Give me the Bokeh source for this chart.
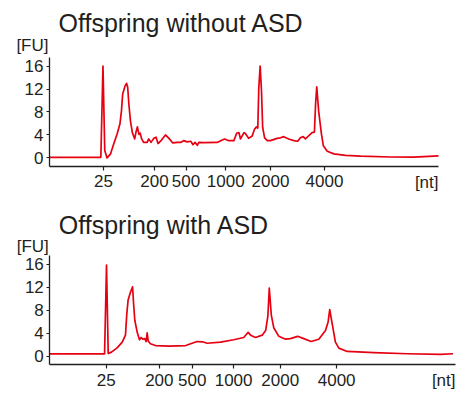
from bokeh.plotting import figure
from bokeh.models import Range1d, FixedTicker, Label
from bokeh.layouts import column
from bokeh.embed import file_html
from bokeh.resources import INLINE

titles = ["Offspring without ASD", "Offspring with ASD"]
y_unit = "[FU]"
x_unit = "[nt]"
tick_pos = [13.9, 27.0, 35.1, 45.3, 56.8, 70.7]
tick_labels = ["25", "200", "500", "1000", "2000", "4000"]
y_ticks = [0, 4, 8, 12, 16]

# migration time (arbitrary units, 0-100) vs fluorescence
top_x = [0.0, 12.9, 13.2, 13.75, 14.2, 14.8, 15.7, 16.5, 17.4, 18.1, 18.5, 18.8, 19.4, 19.8, 20.1,
         20.4, 20.8, 21.3, 21.9, 22.3, 22.6, 23.0, 23.3, 23.7, 24.2, 25.1, 25.5, 26.1, 26.8, 27.4,
         27.9, 28.8, 29.8, 30.7, 31.7, 32.8, 33.7, 34.5, 35.4, 36.3, 36.9, 37.4, 38.0, 38.4, 39.7,
         43.1, 44.0, 45.0, 46.1, 47.4, 48.1, 48.7, 49.1, 49.5, 50.0, 50.4, 51.2, 52.1, 52.7, 53.2,
         53.55, 53.8, 54.15, 54.5, 54.8, 55.3, 56.0, 56.8, 58.5, 59.4, 60.2, 61.5, 62.8, 63.8, 64.5,
         65.2, 65.8, 66.7, 67.5, 68.1, 68.4, 68.7, 69.2, 69.9, 70.4, 71.4, 73.1, 76.1, 80.0, 87.7,
         93.6, 100.0]
top_y = [0.1, 0.1, 0.1, 16.0, 1.3, 0.0, 0.7, 2.4, 4.2, 5.9, 8.2, 11.1, 12.5, 13.0, 12.3,
         9.4, 6.5, 4.4, 3.3, 4.7, 5.4, 4.1, 4.3, 3.3, 2.7, 2.7, 3.3, 2.7, 3.4, 3.6,
         2.5, 3.1, 4.0, 3.4, 2.6, 2.7, 2.7, 3.0, 2.8, 2.9, 2.3, 2.7, 2.2, 2.7, 2.65,
         2.7, 3.0, 3.3, 3.0, 3.0, 4.3, 4.4, 3.3, 3.8, 4.4, 4.2, 3.4, 3.8, 5.0, 5.4,
         5.2, 12.2, 16.0, 11.6, 5.3, 3.5, 3.0, 3.0, 3.4, 3.5, 3.7, 3.3, 3.0, 2.9, 3.5,
         3.7, 3.3, 3.9, 4.4, 4.5, 9.4, 12.4, 8.1, 4.2, 2.1, 1.15, 0.7, 0.45, 0.3, 0.15,
         0.12, 0.35]

bot_x = [0.0, 13.5, 13.98, 14.4, 15.2, 16.6, 17.85, 18.65, 18.98, 19.3, 19.9, 20.4, 20.65, 20.95,
         21.55, 22.1, 22.5, 22.9, 23.4, 23.75, 24.0, 24.25, 24.8, 26.05, 29.3, 33.5, 36.3, 37.6,
         38.8, 42.1, 45.35, 47.8, 48.9, 49.5, 50.7, 52.35, 53.2, 53.75, 54.1, 54.6, 55.2, 56.45,
         58.1, 59.3, 61.1, 62.6, 64.4, 66.3, 67.95, 68.6, 69.0, 69.6, 70.4, 71.25, 73.3, 79.9,
         88.1, 96.3, 99.4]
bot_y = [0.45, 0.45, 15.9, 0.5, 0.75, 1.5, 2.5, 3.7, 7.4, 9.8, 11.2, 12.1, 9.2, 6.3,
         4.2, 2.9, 3.3, 3.0, 3.1, 2.6, 4.1, 2.7, 2.2, 1.9, 1.8, 1.9, 2.6, 2.55,
         2.3, 2.5, 2.9, 3.3, 4.2, 3.7, 3.3, 3.7, 4.5, 7.0, 11.9, 7.2, 5.0, 3.5,
         3.0, 3.1, 3.5, 3.1, 2.6, 3.0, 4.5, 6.0, 8.15, 5.7, 2.5, 1.45, 0.87, 0.65,
         0.47, 0.35, 0.47]

RED = "#e60012"
INK = "#231f20"
FONT = "Liberation Sans"
X0, X1 = 0, 100          # extent of the x axis line
Y0, Y1 = -1.45, 17.55    # extent of the y axis line

W = 465


def make_fig(xs, ys, title, H, ax_left, ax_top, ax_w, ax_h,
             title_dy, fu_dy, nt_dy):
    # pixel geometry of the axes box inside the canvas -> data ranges of full canvas
    sx = (X1 - X0) / ax_w
    sy = (Y1 - Y0) / ax_h
    xr = Range1d(X0 - ax_left * sx, X1 + (W - ax_left - ax_w) * sx)
    yr = Range1d(Y0 - (H - ax_top - ax_h) * sy, Y1 + ax_top * sy)
    p = figure(width=W, height=H, x_range=xr, y_range=yr, min_border=0,
               output_backend="svg", toolbar_location=None,
               background_fill_color="white", border_fill_color="white")
    p.title.visible = False
    p.outline_line_color = None
    p.grid.visible = False
    p.line(xs, ys, line_color=RED, line_width=1.7, line_join="round")

    xa = p.xaxis[0]
    xa.ticker = FixedTicker(ticks=tick_pos)
    xa.major_label_overrides = {t: l for t, l in zip(tick_pos, tick_labels)}
    xa.fixed_location = Y0
    xa.bounds = (X0, X1)
    ya = p.yaxis[0]
    ya.ticker = FixedTicker(ticks=y_ticks)
    ya.fixed_location = X0
    ya.bounds = (Y0, Y1)
    for ax in (xa, ya):
        ax.axis_line_color = INK
        ax.axis_line_width = 1.3
        ax.major_tick_line_color = INK
        ax.major_tick_line_width = 1.2
        ax.major_tick_in = 0
        ax.minor_tick_line_color = None
        ax.major_label_text_font = FONT
        ax.major_label_text_font_size = "17px"
        ax.major_label_text_color = INK
    xa.major_tick_out = 4
    xa.major_label_standoff = 5
    ya.major_tick_out = 3
    ya.major_label_standoff = 3
    ya.major_label_text_align = "center"

    p.add_layout(Label(x=X0, y=Y1, x_offset=9, y_offset=title_dy, text=title,
                       text_font=FONT, text_font_size="25px", text_color=INK,
                       text_baseline="alphabetic", text_align="left"))
    p.add_layout(Label(x=X0, y=Y1, x_offset=-1, y_offset=fu_dy, text=y_unit,
                       text_font=FONT, text_font_size="17px", text_color=INK,
                       text_baseline="alphabetic", text_align="right"))
    p.add_layout(Label(x=X1, y=Y0, x_offset=0, y_offset=nt_dy, text=x_unit,
                       text_font=FONT, text_font_size="17px", text_color=INK,
                       text_baseline="alphabetic", text_align="right"))
    return p


p1 = make_fig(top_x, top_y, titles[0], 196, 49, 56.7, 389, 109, 34.5, 12, -16)
p2 = make_fig(bot_x, bot_y, titles[1], 200, 49.3, 59, 405.7, 109.3, 31, 9.5, -16)

layout = column(p1, p2, spacing=0)
open("out.html", "w").write(file_html(layout, INLINE))
